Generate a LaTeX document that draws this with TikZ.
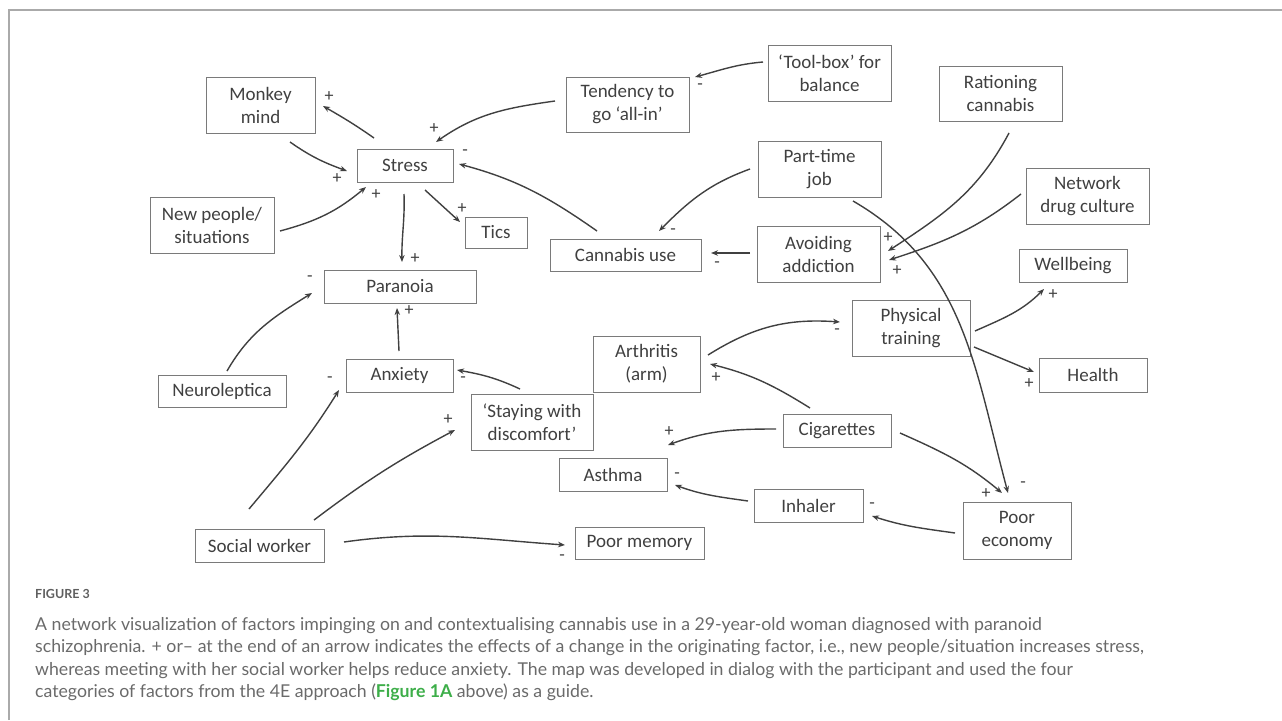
\documentclass[tikz,border=0pt]{standalone}
\usepackage{fontspec}
\setmainfont{Carlito}
\newfontfamily\capfont{Lato}
\usetikzlibrary{arrows.meta}
\definecolor{boxline}{HTML}{7A7A7A}
\definecolor{ink}{HTML}{404040}
\definecolor{captxt}{HTML}{6A6A6A}
\definecolor{figgreen}{HTML}{3DAE49}
\definecolor{framec}{HTML}{AAAAAA}
\begin{document}
\begin{tikzpicture}[x=1pt,y=1pt,
 box/.style={draw=boxline, line width=0.9pt, text=ink, font=\fontsize{19}{23}\selectfont, align=center, inner sep=0pt},
 arr/.style={draw=ink, line width=1.4pt, -{Stealth[length=7pt,width=5.5pt]}},
 sgn/.style={text=ink, font=\fontsize{18}{18}\selectfont, inner sep=0pt},
 captext/.style={anchor=base west, inner sep=0pt, text=captxt, font=\capfont\fontsize{17.7}{22}\selectfont}]

\useasboundingbox (0,0) rectangle (1282,-720);
\draw[framec, line width=1.2pt] (9,-720) -- (9,-10) -- (1282,-10);

% nodes
\node[box, minimum width=109pt, minimum height=56pt] (monkey) at (260.5,-105) {Monkey\\mind};
\node[box, minimum width=96pt, minimum height=33pt] (stress) at (405,-165.5) {Stress};
\node[box, minimum width=124pt, minimum height=56pt] (newpeople) at (212,-225) {New people/\\situations};
\node[box, minimum width=62pt, minimum height=31pt] (tics) at (496,-232.5) {Tics};
\node[box, minimum width=152pt, minimum height=33pt] (paranoia) at (400,-286.5) {Paranoia};
\node[box, minimum width=123pt, minimum height=55pt] (tendency) at (627.5,-104.5) {Tendency to\\go ‘all-in’};
\node[box, minimum width=123pt, minimum height=56pt] (toolbox) at (829.5,-73) {‘Tool-box’ for\\balance};
\node[box, minimum width=123pt, minimum height=56pt] (parttime) at (819.5,-169) {Part-time\\job};
\node[box, minimum width=151pt, minimum height=32pt] (cannabis) at (625.5,-255) {Cannabis use};
\node[box, minimum width=123pt, minimum height=56pt] (avoiding) at (818.5,-254) {Avoiding\\addiction};
\node[box, minimum width=123pt, minimum height=55pt] (rationing) at (1000.5,-93.5) {Rationing\\cannabis};
\node[box, minimum width=123pt, minimum height=56pt] (network) at (1087.5,-196) {Network\\drug culture};
\node[box, minimum width=108pt, minimum height=33pt] (wellbeing) at (1073,-265.5) {Wellbeing};
\node[box, minimum width=128pt, minimum height=32pt] (neuroleptica) at (222,-391) {Neuroleptica};
\node[box, minimum width=107pt, minimum height=33pt] (anxiety) at (399.5,-375.5) {Anxiety};
\node[box, minimum width=122pt, minimum height=56pt] (staying) at (532,-422) {‘Staying with\\discomfort’};
\node[box, minimum width=129pt, minimum height=33pt] (social) at (259.5,-545.5) {Social worker};
\node[box, minimum width=107pt, minimum height=56pt] (arthritis) at (646.5,-364) {Arthritis\\(arm)};
\node[box, minimum width=118pt, minimum height=56pt] (physical) at (911,-328) {Physical\\training};
\node[box, minimum width=108pt, minimum height=33pt] (cigarettes) at (837,-430.5) {Cigarettes};
\node[box, minimum width=108pt, minimum height=33pt] (asthma) at (613,-474.5) {Asthma};
\node[box, minimum width=109pt, minimum height=33pt] (inhaler) at (808.5,-505.5) {Inhaler};
\node[box, minimum width=129pt, minimum height=32pt] (poormemory) at (639.5,-543) {Poor memory};
\node[box, minimum width=108pt, minimum height=34pt] (health) at (1093,-375) {Health};
\node[box, minimum width=108pt, minimum height=57pt] (economy) at (1017,-530.5) {Poor\\economy};

% connectors
\draw[arr] ([shift={(-31,27.5)}]stress.center) to[out=145,in=-30] ([shift={(62.5,-1)}]monkey.center);
\draw[arr] ([shift={(29.5,-37)}]monkey.center) to[out=-35,in=160] ([shift={(-58,-5.5)}]stress.center);
\draw[arr] ([shift={(68,-6)}]newpeople.center) to[out=15,in=-140] ([shift={(-39,-21.5)}]stress.center);
\draw[arr] ([shift={(-72.5,3.5)}]tendency.center) to[out=188,in=35] ([shift={(31,23.5)}]stress.center);
\draw[arr] ([shift={(-28.5,24)}]cannabis.center) to[out=145,in=-15] ([shift={(54,1.5)}]stress.center);
\draw[arr] ([shift={(20,-24.5)}]stress.center) -- ([shift={(-36,10.5)}]tics.center);
\draw[arr] ([shift={(-1,-28.5)}]stress.center) to[out=-88,in=91] ([shift={(2,24.5)}]paranoia.center);
\draw[arr] ([shift={(-66.5,11)}]toolbox.center) to[out=185,in=15] ([shift={(67.5,27.5)}]tendency.center);
\draw[arr] ([shift={(-69.5,0)}]parttime.center) to[out=200,in=45] ([shift={(33.5,24)}]cannabis.center);
\draw[arr] ([shift={(-68.5,1)}]avoiding.center) -- ([shift={(85.5,2)}]cannabis.center);
\draw[arr] ([shift={(33.5,-32)}]parttime.center) to[out=-30,in=105] ([shift={(-9,37.5)}]economy.center);
\draw[arr] ([shift={(8.5,-39.5)}]rationing.center) to[out=-118,in=33] ([shift={(69.5,3)}]avoiding.center);
\draw[arr] ([shift={(-66.5,2)}]network.center) to[out=218,in=18] ([shift={(70.5,-6)}]avoiding.center);
\draw[arr] ([shift={(5,20)}]neuroleptica.center) to[out=60,in=-148] ([shift={(-88,-6.5)}]paranoia.center);
\draw[arr] ([shift={(-0.5,24.5)}]anxiety.center) -- ([shift={(-3,-21.5)}]paranoia.center);
\draw[arr] ([shift={(-12,33)}]staying.center) to[out=155,in=-10] ([shift={(57.5,5.5)}]anxiety.center);
\draw[arr] ([shift={(-10.5,36.5)}]social.center) to[out=50,in=-122] ([shift={(-60.5,-14.5)}]anxiety.center);
\draw[arr] ([shift={(54.5,25.5)}]social.center) to[out=37,in=-152] ([shift={(-77,-8)}]staying.center);
\draw[arr] ([shift={(84.5,3.5)}]social.center) to[out=8,in=176] ([shift={(-74.5,-2)}]poormemory.center);
\draw[arr] ([shift={(61.5,9)}]arthritis.center) to[out=32,in=176] ([shift={(-71,6)}]physical.center);
\draw[arr] ([shift={(-27,22.5)}]cigarettes.center) to[out=148,in=-14] ([shift={(63.5,0)}]arthritis.center);
\draw[arr] ([shift={(-61,1.5)}]cigarettes.center) to[out=180,in=20] ([shift={(55,29.5)}]asthma.center);
\draw[arr] ([shift={(-60.5,4.5)}]inhaler.center) to[out=172,in=-20] ([shift={(62,-10.5)}]asthma.center);
\draw[arr] ([shift={(-62,-2.5)}]economy.center) to[out=172,in=-18] ([shift={(63.5,-10.5)}]inhaler.center);
\draw[arr] ([shift={(63,-2.5)}]cigarettes.center) to[out=-24,in=140] ([shift={(-15,37.5)}]economy.center);
\draw[arr] ([shift={(64,-3)}]physical.center) to[out=24,in=-135] ([shift={(-29,-23.5)}]wellbeing.center);
\draw[arr] ([shift={(63,-19)}]physical.center) -- ([shift={(-59,3)}]health.center);

% signs
\node[sgn] (s1) at (329,-97) {+};
\node[sgn] (s2) at (337,-179) {+};
\node[sgn] (s3) at (376,-195) {+};
\node[sgn] (s4) at (434,-129) {+};
\node[sgn] (s5) at (465,-153) {-};
\node[sgn] (s6) at (462,-209) {+};
\node[sgn] (s7) at (415,-259) {+};
\node[sgn] (s8) at (700,-87) {-};
\node[sgn] (s9) at (673,-232) {-};
\node[sgn] (s10) at (717,-265) {-};
\node[sgn] (s11) at (1023,-485) {-};
\node[sgn] (s12) at (888,-238) {+};
\node[sgn] (s13) at (897,-271) {+};
\node[sgn] (s14) at (310,-279) {-};
\node[sgn] (s15) at (409,-311) {+};
\node[sgn] (s16) at (463,-380) {-};
\node[sgn] (s17) at (330,-380) {-};
\node[sgn] (s18) at (448,-420) {+};
\node[sgn] (s19) at (562,-558) {-};
\node[sgn] (s20) at (837,-332) {-};
\node[sgn] (s21) at (716,-378) {+};
\node[sgn] (s22) at (669,-432) {+};
\node[sgn] (s23) at (677,-476) {-};
\node[sgn] (s24) at (872,-506) {-};
\node[sgn] (s25) at (986,-494) {+};
\node[sgn] (s26) at (1053,-295) {+};
\node[sgn] (s27) at (1029,-384) {+};

% caption
\node[captext, font=\capfont\bfseries\fontsize{12.5}{15}\selectfont, text=captxt!90!black] (cap0) at (35,-598) {FIGURE 3};
\node[captext] (cap1) at (35,-630) {A network visualization of factors impinging on and contextualising cannabis use in a 29-year-old woman diagnosed with paranoid};
\node[captext] (cap2) at (35,-652.5) {schizophrenia. + or– at the end of an arrow indicates the effects of a change in the originating factor, i.e., new people/situation increases stress,};
\node[captext] (cap3) at (35,-675) {whereas meeting with her social worker helps reduce anxiety. The map was developed in dialog with the participant and used the four};
\node[captext] (cap4) at (35,-697.5) {categories of factors from the 4E approach ({\color{figgreen}\bfseries Figure 1A} above) as a guide.};
\end{tikzpicture}
\end{document}
